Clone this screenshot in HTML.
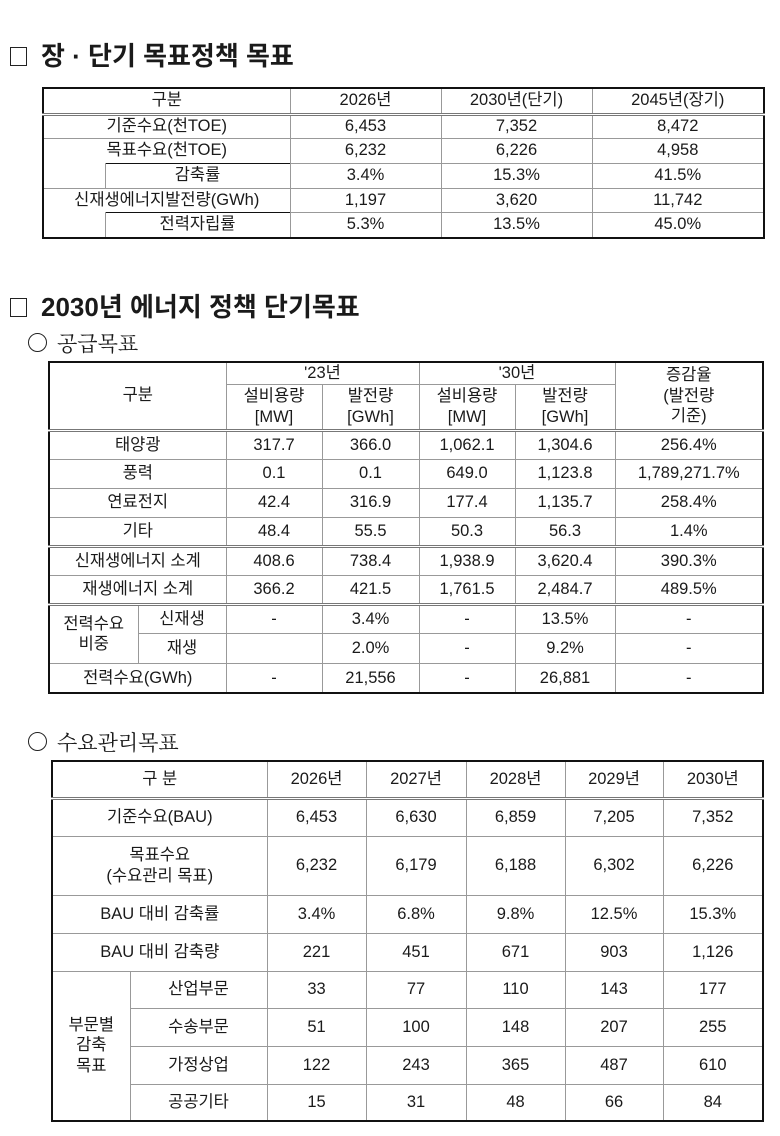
<!DOCTYPE html>
<html><head><meta charset="utf-8"><style>
body{margin:0;width:780px;height:1136px;background:#fff;position:relative;font-family:"Liberation Sans","Noto Sans CJK KR",sans-serif;color:#1a1a1a}
.t{position:absolute;font-weight:bold;font-size:26px;white-space:nowrap}
.s{position:absolute;font-family:"Noto Serif CJK KR","Noto Serif CJK SC",serif;font-size:21px;white-space:nowrap}
.box{display:inline-block;width:15px;height:17px;border:1.5px solid #222;vertical-align:-1px;margin-right:14px}
.circ{display:inline-block;width:17px;height:17px;border:1.5px solid #222;border-radius:50%;vertical-align:-1px;margin-right:10px}
table{position:absolute;border-collapse:collapse;border:2.5px solid #111;table-layout:fixed}
td{border:1px solid #999;text-align:center;font-size:16.5px;padding:0;line-height:1.25}
.dbl td{border-top:3px double #777}
</style></head><body>
<div class="t" style="left:10px;top:36px"><span class="box"></span>장 · 단기 목표정책 목표</div>
<table style="left:42px;top:87px;width:721px">
<col style="width:62px"><col style="width:185px"><col style="width:151px"><col style="width:151px"><col style="width:172px">
<tr style="height:26px"><td colspan="2">구분</td><td>2026년</td><td>2030년(단기)</td><td>2045년(장기)</td></tr>
<tr class="dbl" style="height:24px"><td colspan="2">기준수요(천TOE)</td><td>6,453</td><td>7,352</td><td>8,472</td></tr>
<tr style="height:25px"><td colspan="2" style="border-bottom:none">목표수요(천TOE)</td><td>6,232</td><td>6,226</td><td>4,958</td></tr>
<tr style="height:25px"><td style="border-top:none"></td><td style="border-top:1.5px solid #111">감축률</td><td>3.4%</td><td>15.3%</td><td>41.5%</td></tr>
<tr style="height:24px"><td colspan="2" style="border-bottom:none">신재생에너지발전량(GWh)</td><td>1,197</td><td>3,620</td><td>11,742</td></tr>
<tr style="height:26px"><td style="border-top:none"></td><td style="border-top:1.5px solid #111">전력자립률</td><td>5.3%</td><td>13.5%</td><td>45.0%</td></tr>
</table>
<div class="t" style="left:10px;top:287px"><span class="box"></span>2030년 에너지 정책 단기목표</div>
<div class="s" style="left:28px;top:328px"><span class="circ"></span>공급목표</div>
<table style="left:48px;top:361px;width:714px">
<col style="width:89px"><col style="width:88px"><col style="width:96px"><col style="width:97px"><col style="width:96px"><col style="width:100px"><col style="width:148px">
<tr style="height:22px"><td colspan="2" rowspan="2" style="vertical-align:top;padding-top:22px">구분</td><td colspan="2">'23년</td><td colspan="2">'30년</td><td rowspan="2">증감율<br>(발전량<br>기준)</td></tr>
<tr style="height:46px"><td>설비용량<br>[MW]</td><td>발전량<br>[GWh]</td><td>설비용량<br>[MW]</td><td>발전량<br>[GWh]</td></tr>
<tr class="dbl" style="height:29px"><td colspan="2">태양광</td><td>317.7</td><td>366.0</td><td>1,062.1</td><td>1,304.6</td><td>256.4%</td></tr>
<tr style="height:29px"><td colspan="2">풍력</td><td>0.1</td><td>0.1</td><td>649.0</td><td>1,123.8</td><td>1,789,271.7%</td></tr>
<tr style="height:29px"><td colspan="2">연료전지</td><td>42.4</td><td>316.9</td><td>177.4</td><td>1,135.7</td><td>258.4%</td></tr>
<tr style="height:29px"><td colspan="2">기타</td><td>48.4</td><td>55.5</td><td>50.3</td><td>56.3</td><td>1.4%</td></tr>
<tr class="dbl" style="height:29px"><td colspan="2">신재생에너지 소계</td><td>408.6</td><td>738.4</td><td>1,938.9</td><td>3,620.4</td><td>390.3%</td></tr>
<tr style="height:29px"><td colspan="2">재생에너지 소계</td><td>366.2</td><td>421.5</td><td>1,761.5</td><td>2,484.7</td><td>489.5%</td></tr>
<tr class="dbl" style="height:29px"><td rowspan="2">전력수요<br>비중</td><td>신재생</td><td>-</td><td>3.4%</td><td>-</td><td>13.5%</td><td>-</td></tr>
<tr style="height:30px"><td>재생</td><td></td><td>2.0%</td><td>-</td><td>9.2%</td><td>-</td></tr>
<tr style="height:30px"><td colspan="2">전력수요(GWh)</td><td>-</td><td>21,556</td><td>-</td><td>26,881</td><td>-</td></tr>
</table>
<div class="s" style="left:28px;top:727px"><span class="circ"></span>수요관리목표</div>
<table style="left:51px;top:760px;width:711px">
<col style="width:78px"><col style="width:137px"><col style="width:99px"><col style="width:100px"><col style="width:99px"><col style="width:98px"><col style="width:100px">
<tr style="height:37px"><td colspan="2">구 분</td><td>2026년</td><td>2027년</td><td>2028년</td><td>2029년</td><td>2030년</td></tr>
<tr class="dbl" style="height:38px"><td colspan="2">기준수요(BAU)</td><td>6,453</td><td>6,630</td><td>6,859</td><td>7,205</td><td>7,352</td></tr>
<tr style="height:59px"><td colspan="2">목표수요<br>(수요관리 목표)</td><td>6,232</td><td>6,179</td><td>6,188</td><td>6,302</td><td>6,226</td></tr>
<tr style="height:38px"><td colspan="2">BAU 대비 감축률</td><td>3.4%</td><td>6.8%</td><td>9.8%</td><td>12.5%</td><td>15.3%</td></tr>
<tr style="height:38px"><td colspan="2">BAU 대비 감축량</td><td>221</td><td>451</td><td>671</td><td>903</td><td>1,126</td></tr>
<tr style="height:37px"><td rowspan="4">부문별<br>감축<br>목표</td><td>산업부문</td><td>33</td><td>77</td><td>110</td><td>143</td><td>177</td></tr>
<tr style="height:38px"><td>수송부문</td><td>51</td><td>100</td><td>148</td><td>207</td><td>255</td></tr>
<tr style="height:38px"><td>가정상업</td><td>122</td><td>243</td><td>365</td><td>487</td><td>610</td></tr>
<tr style="height:37px"><td>공공기타</td><td>15</td><td>31</td><td>48</td><td>66</td><td>84</td></tr>
</table>
</body></html>
